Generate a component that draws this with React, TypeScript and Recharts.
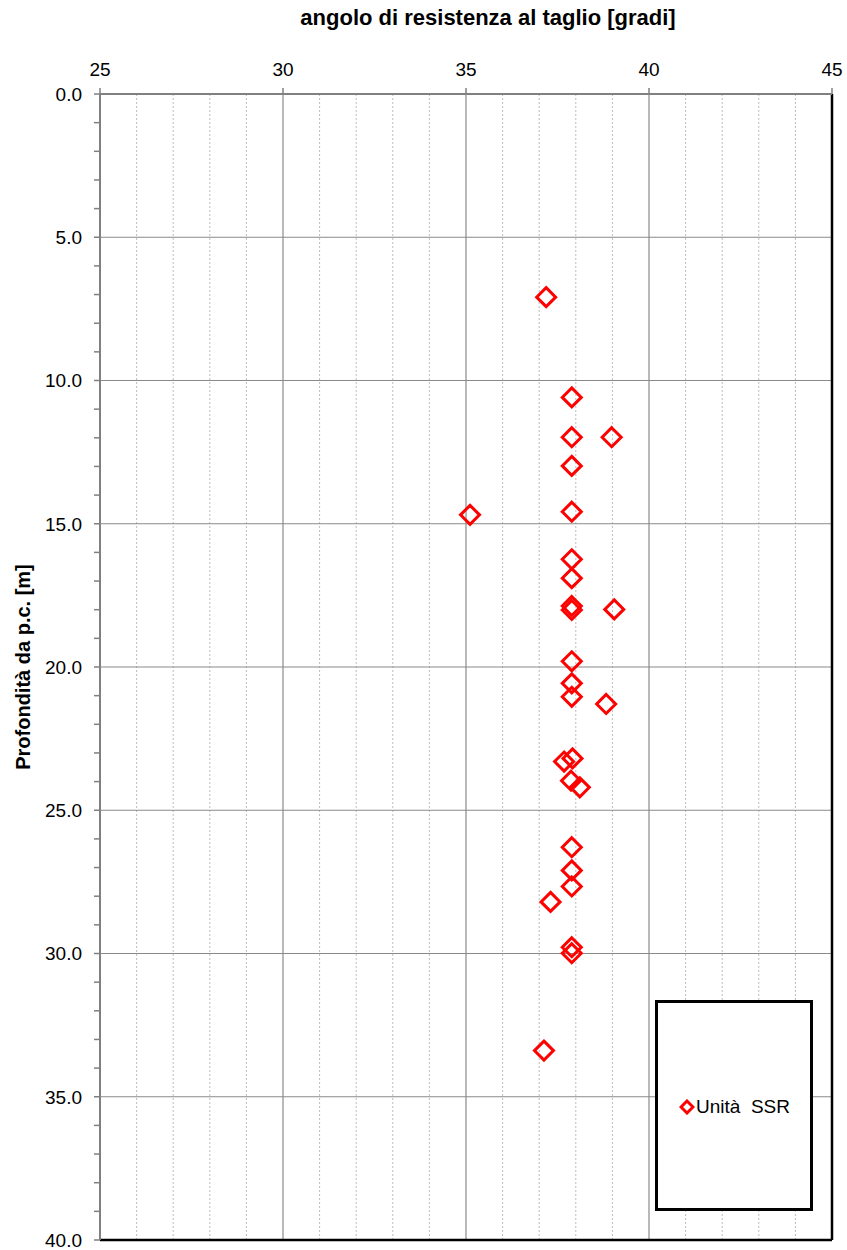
import React from "react";
import {
  ScatterChart,
  Scatter,
  XAxis,
  YAxis,
  ReferenceLine,
} from "recharts";

// angolo di resistenza al taglio [gradi] per ciascuna prova
const angolo = [
  37.19, 37.89, 37.89, 38.98, 37.89, 35.11, 37.89, 37.89, 37.89, 37.89,
  37.89, 39.05, 37.89, 37.89, 37.89, 38.83, 37.91, 37.68, 37.87, 38.11,
  37.89, 37.89, 37.89, 37.31, 37.89, 37.89, 37.13,
];

// profondità da p.c. [m]
const profondita = [
  7.09, 10.59, 11.98, 11.98, 12.98, 14.69, 14.58, 16.24, 16.9, 17.87,
  18.01, 17.99, 19.8, 20.57, 21.04, 21.29, 23.19, 23.3, 23.97, 24.2,
  26.29, 27.1, 27.66, 28.2, 29.78, 29.99, 33.39,
];

// assi e griglie
const xTicks = [25, 30, 35, 40, 45];
const xGridMajor = [30, 35, 40];
const xGridMinor = [26, 27, 28, 29, 31, 32, 33, 34, 36, 37, 38, 39, 41, 42, 43, 44];
const yTicks = [
  0, 1, 2, 3, 4, 5, 6, 7, 8, 9, 10, 11, 12, 13, 14, 15, 16, 17, 18, 19, 20,
  21, 22, 23, 24, 25, 26, 27, 28, 29, 30, 31, 32, 33, 34, 35, 36, 37, 38, 39, 40,
];
const yGridMajor = [5, 10, 15, 20, 25, 30, 35];

const FONT = "'Liberation Sans', Arial, Helvetica, sans-serif";
const RED = "#ff0000";

const data = angolo.map((a, i) => ({ x: a, y: profondita[i] }));

// marcatore a rombo vuoto
const Rombo = (props: any) => {
  const { cx, cy } = props;
  const r = 9.5;
  return (
    <path
      d={`M${cx},${cy - r} L${cx + r},${cy} L${cx},${cy + r} L${cx - r},${cy} Z`}
      fill="none"
      stroke={RED}
      strokeWidth={3}
    />
  );
};

// etichette asse Y solo ogni 5 m
const YTick = (props: any) => {
  const { x, y, payload } = props;
  if (payload.value % 5 !== 0) return null;
  return (
    <text
      x={x}
      y={y}
      dy="0.36em"
      textAnchor="end"
      fontSize={19}
      fontFamily={FONT}
      fill="#000"
    >
      {payload.value.toFixed(1)}
    </text>
  );
};

export default function App() {
  return (
    <div
      style={{
        position: "absolute",
        left: 0,
        top: 0,
        width: 847,
        height: 1250,
        background: "#fff",
        fontFamily: FONT,
      }}
    >
      <div
        style={{
          position: "absolute",
          left: 238,
          top: 4,
          width: 500,
          textAlign: "center",
          fontSize: 22,
          fontWeight: "bold",
          lineHeight: "28px",
          color: "#000",
        }}
      >
        angolo di resistenza al taglio [gradi]
      </div>
      <div
        style={{
          position: "absolute",
          left: 23 - 160,
          top: 667 - 13,
          width: 320,
          height: 26,
          lineHeight: "26px",
          textAlign: "center",
          fontSize: 20,
          fontWeight: "bold",
          color: "#000",
          transform: "rotate(-90deg)",
        }}
      >
        Profondità da p.c. [m]
      </div>

      <div style={{ position: "absolute", left: 0, top: 0 }}>
        <ScatterChart
          width={847}
          height={1250}
          margin={{ top: 64, right: 15, bottom: 10, left: 40 }}
        >
          <XAxis
            type="number"
            dataKey="x"
            orientation="top"
            domain={[25, 45]}
            ticks={xTicks}
            interval={0}
            height={30}
            allowDataOverflow
            axisLine={{ stroke: "#808080", strokeWidth: 2 }}
            tickLine={{ stroke: "#808080", strokeWidth: 1.5 }}
            tickSize={6}
            tickMargin={12}
            tick={{ fontSize: 19, fill: "#000", fontFamily: FONT }}
          />
          <YAxis
            type="number"
            dataKey="y"
            reversed
            domain={[0, 40]}
            ticks={yTicks}
            interval={0}
            width={60}
            allowDataOverflow
            axisLine={{ stroke: "#808080", strokeWidth: 2 }}
            tickLine={{ stroke: "#808080", strokeWidth: 1.5 }}
            tickSize={6}
            tickMargin={12}
            tick={<YTick />}
          />

          {xGridMinor.map((v) => (
            <ReferenceLine
              key={`xm${v}`}
              x={v}
              stroke="#bcbcbc"
              strokeWidth={1}
              strokeDasharray="2 2"
            />
          ))}
          {xGridMajor.map((v) => (
            <ReferenceLine key={`xM${v}`} x={v} stroke="#8a8a8a" strokeWidth={1.2} />
          ))}
          {yGridMajor.map((v) => (
            <ReferenceLine key={`yM${v}`} y={v} stroke="#8a8a8a" strokeWidth={1.2} />
          ))}
          {/* bordo inferiore e destro */}
          <ReferenceLine y={40} stroke="#000" strokeWidth={2.5} />
          <ReferenceLine x={45} stroke="#000" strokeWidth={2.5} />

          <Scatter
            name="Unità  SSR"
            data={data}
            shape={<Rombo />}
            isAnimationActive={false}
          />
        </ScatterChart>
      </div>

      {/* legenda */}
      <div
        style={{
          position: "absolute",
          left: 655,
          top: 1000,
          width: 158,
          height: 211,
          boxSizing: "border-box",
          border: "3px solid #000",
          background: "#fff",
        }}
      >
        <div
          style={{
            position: "absolute",
            left: 21,
            top: 93,
            display: "flex",
            alignItems: "center",
            whiteSpace: "pre",
            fontSize: 19,
            color: "#000",
          }}
        >
          <svg width={16} height={16} style={{ marginRight: 1 }}>
            <path d="M8,2 L14,8 L8,14 L2,8 Z" fill="none" stroke={RED} strokeWidth={3} />
          </svg>
          Unità  SSR
        </div>
      </div>
    </div>
  );
}
